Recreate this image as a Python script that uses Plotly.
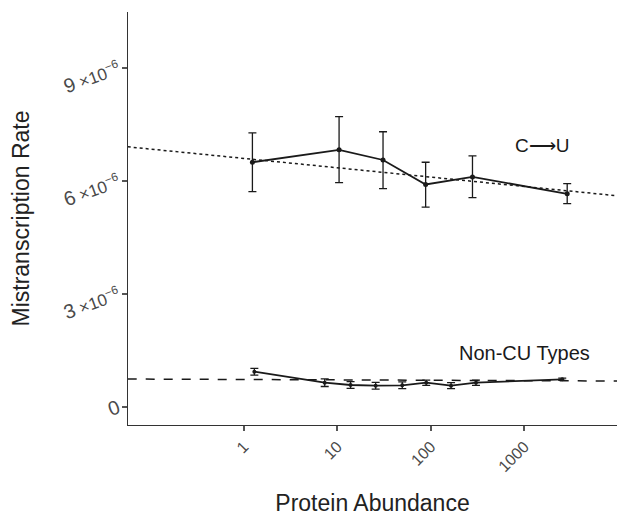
import plotly.graph_objects as go

# C->U mistranscription rate vs protein abundance
cu_x = [1.23, 10.4, 30.7, 87.7, 278, 2866]
cu_y = [6.50e-6, 6.83e-6, 6.56e-6, 5.91e-6, 6.11e-6, 5.66e-6]
cu_err_hi = [0.78e-6, 0.88e-6, 0.75e-6, 0.59e-6, 0.56e-6, 0.27e-6]
cu_err_lo = [0.78e-6, 0.87e-6, 0.76e-6, 0.60e-6, 0.55e-6, 0.26e-6]

# Non-CU types
ncu_x = [1.29, 7.3, 13.8, 25.6, 49.3, 89, 164, 303, 2537]
ncu_y = [0.937e-6, 0.645e-6, 0.584e-6, 0.566e-6, 0.576e-6, 0.645e-6, 0.566e-6, 0.645e-6, 0.735e-6]
ncu_err = [0.09e-6, 0.10e-6, 0.09e-6, 0.09e-6, 0.09e-6, 0.07e-6, 0.08e-6, 0.07e-6, 0.03e-6]

# fitted trend lines (endpoints)
cu_fit_x = [0.057, 9800]
cu_fit_y = [6.91e-6, 5.61e-6]
ncu_fit_x = [0.057, 9800]
ncu_fit_y = [0.743e-6, 0.69e-6]

y_ticks = [0, 3e-6, 6e-6, 9e-6]
y_tick_mant = ["0", "3", "6", "9"]
x_ticks = [1, 10, 100, 1000]
x_tick_text = ["1", "10", "100", "1000"]

FONT = "Liberation Sans, Arial, sans-serif"
INK = "#1a1a1a"
TICK_INK = "#4a4a4a"


def sci_label(m):
    if m == "0":
        return '<span style="font-size:20px">0</span>'
    return f'<span style="font-size:20px">{m}</span> ×10<sup>−6</sup>'


fig = go.Figure()

fig.add_trace(go.Scatter(
    x=cu_fit_x, y=cu_fit_y, mode="lines",
    line=dict(color=INK, width=1.5, dash="dot"), hoverinfo="skip",
))
fig.add_trace(go.Scatter(
    x=ncu_fit_x, y=ncu_fit_y, mode="lines",
    line=dict(color=INK, width=1.5, dash="dash"), hoverinfo="skip",
))
fig.add_trace(go.Scatter(
    x=cu_x, y=cu_y, mode="lines+markers",
    line=dict(color=INK, width=1.8),
    marker=dict(color=INK, size=5),
    error_y=dict(type="data", array=cu_err_hi, arrayminus=cu_err_lo,
                 color=INK, thickness=1.3, width=4),
))
fig.add_trace(go.Scatter(
    x=ncu_x, y=ncu_y, mode="lines+markers",
    line=dict(color=INK, width=1.8),
    marker=dict(color=INK, size=4),
    error_y=dict(type="data", array=ncu_err, color=INK, thickness=1.3, width=4),
))

fig.add_annotation(x=3.19, y=6.95e-6, xref="x", yref="y", text="C⟶U",
                   showarrow=False, font=dict(size=19, color=INK, family=FONT))
fig.add_annotation(x=3.0, y=1.44e-6, xref="x", yref="y", text="Non-CU Types",
                   showarrow=False, font=dict(size=20, color=INK, family=FONT))

fig.update_xaxes(
    type="log", range=[-1.241, 3.99],
    tickvals=x_ticks, ticktext=x_tick_text, tickangle=-45,
    ticks="outside", ticklen=5, tickwidth=2, tickcolor="#555555",
    showline=True, linecolor="#333333", linewidth=1.2,
    showgrid=False, zeroline=False,
    tickfont=dict(size=16, color=TICK_INK, family=FONT),
    title=dict(text="Protein Abundance", standoff=20,
               font=dict(size=23, color="#222222", family=FONT)),
)
fig.update_yaxes(
    range=[-0.478e-6, 10.49e-6],
    tickvals=y_ticks, ticktext=[sci_label(m) for m in y_tick_mant], tickangle=-20,
    ticks="outside", ticklen=5, tickwidth=2, tickcolor="#555555",
    showline=True, linecolor="#333333", linewidth=1.2,
    showgrid=False, zeroline=False,
    tickfont=dict(size=17, color=TICK_INK, family=FONT),
    title=dict(text="Mistranscription Rate", standoff=24,
               font=dict(size=23, color="#222222", family=FONT)),
)

fig.update_layout(
    width=617, height=517,
    margin=dict(l=128, r=0, t=12, b=92, autoexpand=False),
    plot_bgcolor="white", paper_bgcolor="white",
    showlegend=False,
)

fig.write_html("out.html", config={"displayModeBar": False},
               post_script="document.body.style.margin='0';")
